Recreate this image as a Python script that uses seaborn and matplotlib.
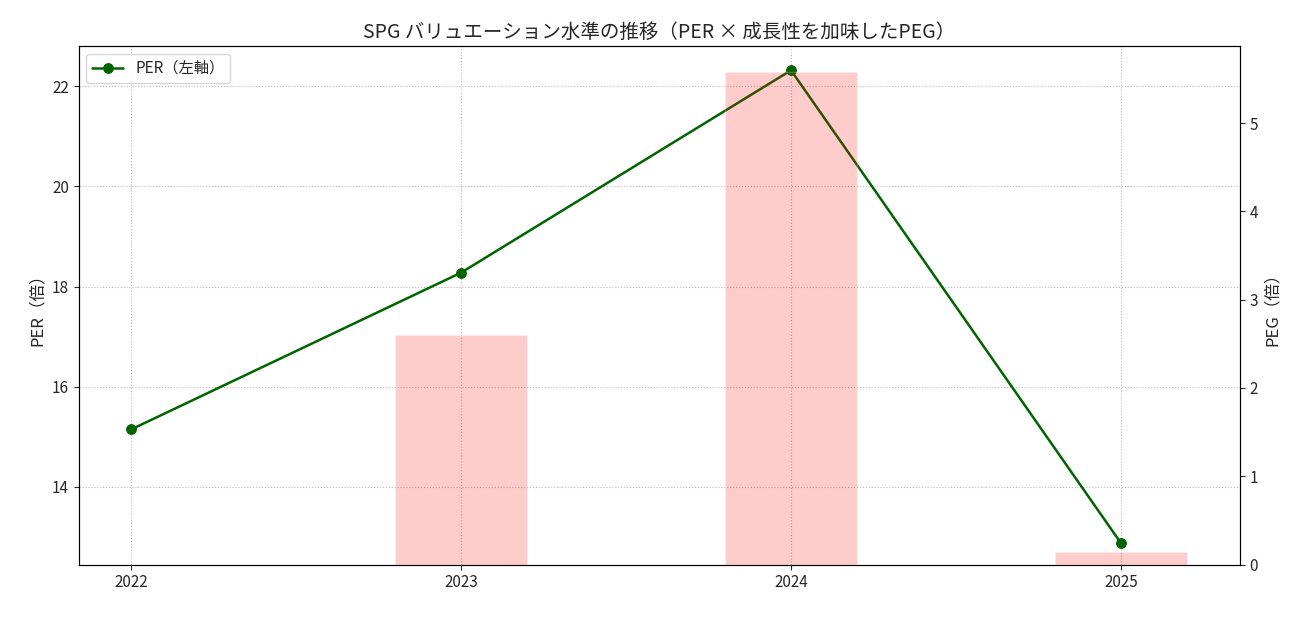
import matplotlib
matplotlib.use("Agg")
import matplotlib.pyplot as plt
import seaborn as sns
import numpy as np
import pandas as pd

years = ["2022", "2023", "2024", "2025"]
per = [15.15, 18.28, 22.32, 12.88]
peg = [np.nan, 2.60, 5.58, 0.14]

sns.set_style("white")
plt.rcParams['font.family'] = ['Noto Sans CJK JP', 'DejaVu Sans']

fig, ax1 = plt.subplots(figsize=(13.09, 6.17), dpi=100)
ax2 = ax1.twinx()
pos = np.arange(len(years))
df = pd.DataFrame({"pos": pos, "year": years, "per": per, "peg": peg})

sns.lineplot(data=df, x="pos", y="per", ax=ax1, color="darkgreen", marker="o",
             markersize=7, markeredgecolor="darkgreen", linewidth=1.8, label="PER（左軸）")
sns.barplot(data=df, x="year", y="peg", ax=ax2, color="red", alpha=0.2, width=0.4,
            saturation=1)

ax1.set_xlim(-0.16, 3.36)
ax1.set_ylim(12.45, 22.8)
ax2.set_ylim(0, 5.87)
ax1.set_xticks(pos)
ax1.set_xticklabels(years)
ax1.set_xlabel("")
ax2.set_xlabel("")
ax1.set_ylabel("PER（倍）", fontsize=12)
ax2.set_ylabel("PEG（倍）", fontsize=12)
ax1.grid(True, linestyle=":", color="#bbbbbb")
ax1.tick_params(labelsize=11, left=True, bottom=True)
ax2.tick_params(labelsize=11, right=True)
for ax in (ax1, ax2):
    for s in ax.spines.values():
        s.set_color("black")
ax1.legend(loc="upper left", fontsize=11)
ax1.set_title("SPG バリュエーション水準の推移（PER × 成長性を加味したPEG）", fontsize=14)
fig.subplots_adjust(left=0.06, right=0.947, top=0.925, bottom=0.085)
fig.savefig("out.png")
